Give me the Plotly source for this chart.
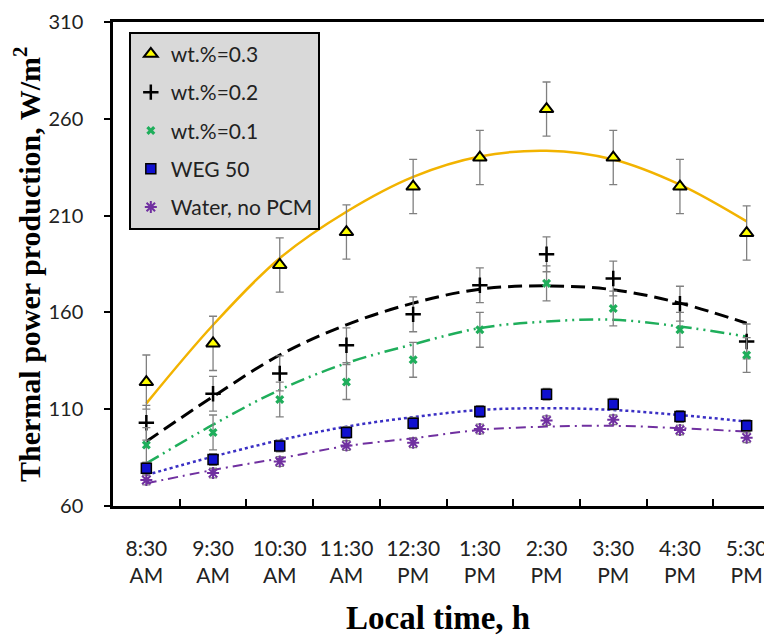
import plotly.graph_objects as go

categories = ["8:30<br>AM", "9:30<br>AM", "10:30<br>AM", "11:30<br>AM", "12:30<br>PM",
              "1:30<br>PM", "2:30<br>PM", "3:30<br>PM", "4:30<br>PM", "5:30<br>PM"]

wt03 = [124, 144, 184.5, 201.5, 225, 240, 265, 240, 225, 201]
wt02 = [103, 118, 128.5, 143, 159, 174, 190, 177.5, 164.5, 145]
wt01 = [91.5, 98, 115, 124, 135.5, 151, 175, 162, 151, 138]
weg50 = [79.5, 84, 91, 98, 102.7, 108.8, 117.7, 112.6, 106.2, 101.5]
water = [73.4, 77, 83, 91.2, 92.7, 99.8, 104.1, 104.5, 99.3, 95.3]

err03 = [14] * 10
err02 = [9] * 10
err01 = [9] * 10
errweg = [3] * 10
errwater = [2.5] * 10

fit03 = [113, 153.5, 188, 212, 230, 240.5, 243.5, 239, 226, 207]
fit02 = [93.3, 116.5, 138, 153.6, 164.8, 172, 173.7, 171.7, 164.8, 154.4]
fit01 = [82, 102, 120, 133.8, 143.5, 151.9, 155.3, 156.2, 152.7, 147.5]
fitweg = [76, 85.5, 94, 101, 105.9, 109.6, 110.5, 109.6, 107, 103.6]
fitwater = [71.7, 78.6, 84.6, 91, 95, 99.3, 101, 101.4, 100.2, 98.4]

names = ["wt.%=0.3", "wt.%=0.2", "wt.%=0.1", "WEG 50", "Water, no PCM"]
y_ticks = [60, 110, 160, 210, 260, 310]
x_title = "Local time, h"
y_title = "Thermal power production, W/m<sup>2</sup>"

fig = go.Figure()

fits = [
    (fit03, dict(color="#f2b300", width=2.5, dash="solid")),
    (fit02, dict(color="black", width=3, dash="14px,7px")),
    (fit01, dict(color="#1fae5b", width=2.5, dash="14px,5px,2px,5px,2px,5px")),
    (fitweg, dict(color="#3a2fc4", width=2.5, dash="dot")),
    (fitwater, dict(color="#7030a0", width=2, dash="10px,5px,2px,5px")),
]
for vals, ln in fits:
    fig.add_trace(go.Scatter(x=categories, y=vals, mode="lines", line=dict(shape="spline", **ln),
                             showlegend=False, hoverinfo="skip"))

ebar = dict(type="data", color="#808080", thickness=1.3, width=4)
series = [
    (wt03, err03, dict(symbol="triangle-up", size=12, color="#ffff00", line=dict(color="black", width=2))),
    (wt02, err02, dict(symbol="cross-thin", size=11, color="black", line=dict(color="black", width=2.5))),
    (wt01, err01, dict(symbol="x", size=8, color="#1fae5b", line=dict(color="#1fae5b", width=0))),
    (weg50, errweg, dict(symbol="square", size=10, color="#1010d0", line=dict(color="black", width=1.5))),
    (water, errwater, dict(symbol="asterisk-open", size=10, color="#7030a0", line=dict(color="#7030a0", width=2))),
]
for i, (vals, err, mk) in enumerate(series):
    fig.add_trace(go.Scatter(x=categories, y=vals, mode="markers", name=names[i], marker=mk,
                             error_y=dict(array=err, **ebar), legendgroup=f"g{i}"))

# the page places the figure 8px from the top-left corner, so the figure is 8px smaller
fig.update_layout(
    width=764, height=627,
    margin=dict(l=105, r=0, t=14, b=129),
    plot_bgcolor="white", paper_bgcolor="white",
    font=dict(family="Lato", size=20, color="#222"),
    showlegend=True,
    legend=dict(x=0.024, y=0.98, xanchor="left", yanchor="top",
                bgcolor="#d9d9d9", bordercolor="black", borderwidth=2,
                font=dict(family="Lato", size=21, color="#222"), tracegroupgap=8,
                itemwidth=30),
    xaxis=dict(range=[-0.5, 9.38], tickson="boundaries", ticks="inside", ticklen=7, tickwidth=2,
               tickcolor="black", showline=True, linecolor="black", linewidth=2.5, mirror=True,
               showgrid=False, zeroline=False, automargin=False, tickangle=0,
               tickfont=dict(family="Lato", size=21, color="#222"), ticklabeloverflow="allow",
               ticklabelstandoff=22),
    yaxis=dict(range=[60, 310], tickvals=y_ticks, ticks="outside", ticklen=6, tickwidth=2,
               tickcolor="black", showline=True, linecolor="black", linewidth=2.5, mirror=False,
               showgrid=False, zeroline=False, automargin=False,
               tickfont=dict(family="Lato", size=20, color="#222"), ticklabeloverflow="allow",
               ticklabelstandoff=17),
    annotations=[
        dict(text="<b>" + x_title + "</b>", xref="paper", yref="paper", x=0.5, y=0,
             xanchor="center", yanchor="middle", yshift=-112, xshift=-5, showarrow=False,
             font=dict(family="Liberation Serif", size=33, color="black")),
        dict(text="<b>" + y_title + "</b>", xref="paper", yref="paper", x=0, y=0.5,
             xanchor="center", yanchor="middle", xshift=-86, yshift=0, textangle=-90, showarrow=False,
             font=dict(family="Liberation Serif", size=30, color="black")),
    ],
)

fig.write_html("out.html")
